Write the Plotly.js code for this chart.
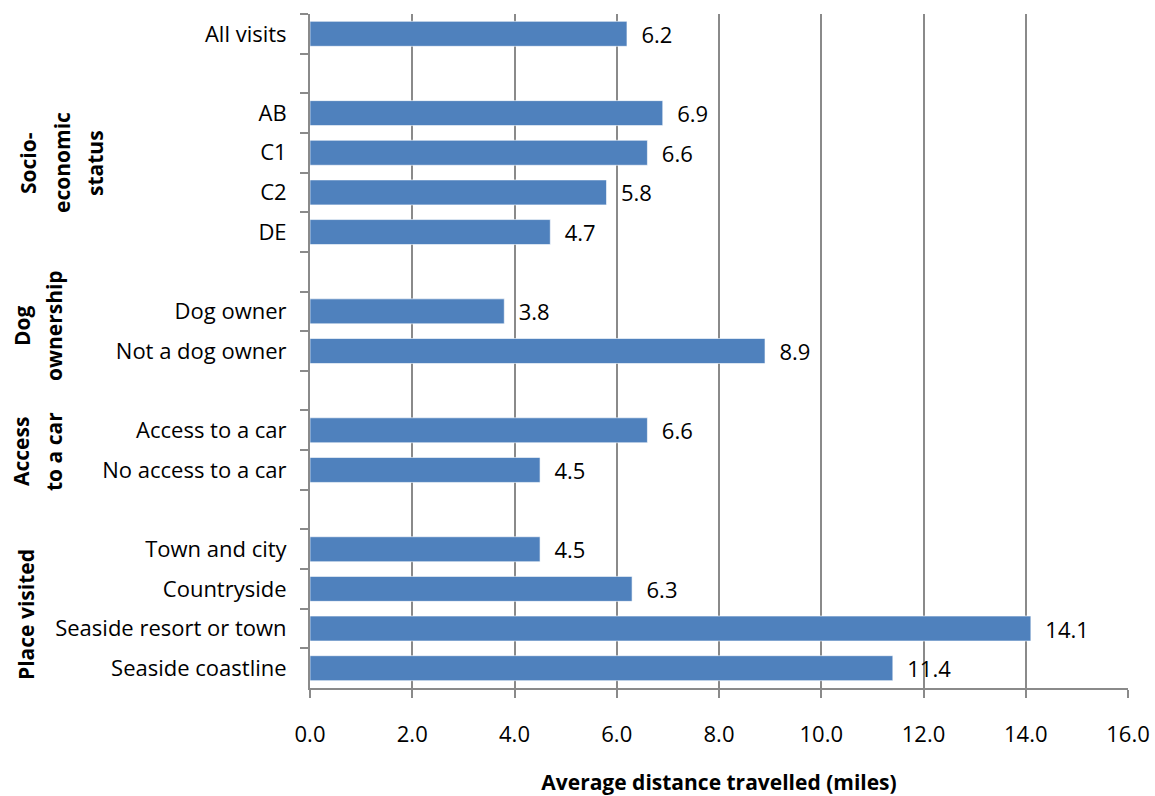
<!DOCTYPE html>
<html>
<head>
<meta charset="utf-8">
<script src="https://cdn.plot.ly/plotly-3.0.1.min.js"></script>
<style>html,body{margin:0;padding:0;background:#fff;}#chart{width:1155px;height:796px;}</style>
</head>
<body>
<div id="chart"></div>
<script>
// Categories (top to bottom); blank slots separate the groups
const categories = [
  "All visits", " ",
  "AB", "C1", "C2", "DE", "  ",
  "Dog owner", "Not a dog owner", "   ",
  "Access to a car", "No access to a car", "    ",
  "Town and city", "Countryside", "Seaside resort or town", "Seaside coastline"
];
const values = [
  6.2, null,
  6.9, 6.6, 5.8, 4.7, null,
  3.8, 8.9, null,
  6.6, 4.5, null,
  4.5, 6.3, 14.1, 11.4
];
const xTickValues = [0, 2, 4, 6, 8, 10, 12, 14, 16];
const xTickLabels = ["0.0", "2.0", "4.0", "6.0", "8.0", "10.0", "12.0", "14.0", "16.0"];
const groupLabels = [
  {lines: ["Socio-", "economic", "status"], px: [28, 62, 95], py: 163},
  {lines: ["Dog", "ownership"], px: [22, 54], py: 326},
  {lines: ["Access", "to a car"], px: [21, 54], py: 452},
  {lines: ["Place visited"], px: [26], py: 615}
];
const xTitle = "Average distance travelled (miles)";

const FONT = "Open Sans, Noto Sans, sans-serif";
const L = 310, R = 1128, T = 14, B = 688;
const W = 1155, H = 796;
const GRID = "#8a8a8a";
const FS = 22;

const trace = {
  type: "bar",
  orientation: "h",
  y: categories,
  x: values,
  marker: {color: "#4F81BD", line: {color: "#ffffff", width: 0.6}},
  text: values.map(v => v === null ? "" : "\u00a0\u00a0" + v.toFixed(1)),
  textposition: "outside",
  constraintext: "none",
  cliponaxis: false,
  textfont: {family: FONT, size: FS, color: "#000"},
  hoverinfo: "skip"
};

const annotations = [];
groupLabels.forEach(g => {
  g.lines.forEach((t, i) => {
    annotations.push({
      text: "<b>" + t + "</b>",
      xref: "paper", yref: "paper",
      x: (g.px[i] - L) / (R - L),
      y: (B - g.py) / (B - T),
      xanchor: "center", yanchor: "middle",
      textangle: -90,
      showarrow: false,
      font: {family: FONT, size: 21, color: "#000"}
    });
  });
});

const layout = {
  width: W, height: H,
  margin: {l: L, r: W - R, t: T, b: H - B},
  paper_bgcolor: "#fff", plot_bgcolor: "#fff",
  showlegend: false,
  bargap: 0.37,
  font: {family: FONT, size: FS, color: "#000"},
  xaxis: {
    range: [0, 16],
    tickvals: xTickValues,
    ticktext: xTickLabels,
    showgrid: true, gridcolor: GRID, gridwidth: 2,
    zeroline: false,
    showline: true, linecolor: GRID, linewidth: 2,
    ticks: "outside", ticklen: 8, tickcolor: GRID, tickwidth: 2,
    ticklabelstandoff: 18,
    tickfont: {family: FONT, size: FS, color: "#000"},
    title: {text: "<b>" + xTitle + "</b>", font: {family: FONT, size: 21, color: "#000"}, standoff: 29},
    fixedrange: true
  },
  yaxis: {
    type: "category",
    categoryorder: "array",
    categoryarray: categories,
    range: [categories.length - 0.5, -0.5],
    tickson: "boundaries",
    ticks: "outside", ticklen: 8, tickcolor: GRID, tickwidth: 2,
    showline: true, linecolor: GRID, linewidth: 2,
    showgrid: false, zeroline: false,
    ticklabelstandoff: 17,
    tickfont: {family: FONT, size: FS, color: "#000"},
    fixedrange: true
  },
  annotations: annotations
};

Plotly.newPlot("chart", [trace], layout, {displayModeBar: false, staticPlot: true});
</script>
</body>
</html>
